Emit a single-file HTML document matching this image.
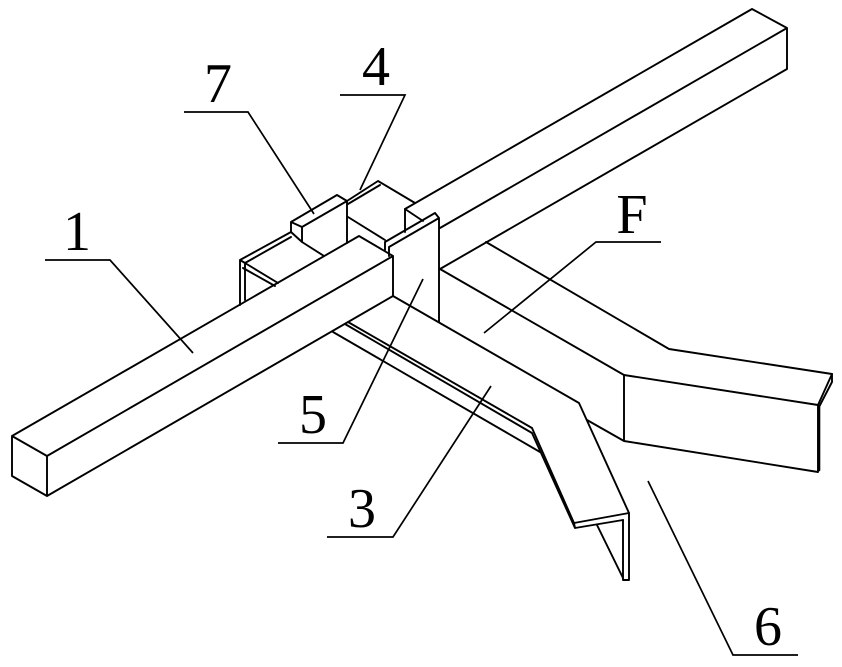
<!DOCTYPE html>
<html><head><meta charset="utf-8"><style>
html,body{margin:0;padding:0;background:#fff;width:842px;height:667px;overflow:hidden}
svg{display:block}
text{font-family:"Liberation Serif",serif;font-size:56px;fill:#000;text-anchor:middle}
.m{fill:none;stroke:#000;stroke-width:1.9;stroke-linejoin:round;stroke-linecap:round}
.l{fill:none;stroke:#000;stroke-width:1.7}
</style></head><body>
<svg width="842" height="667" viewBox="0 0 842 667" xmlns="http://www.w3.org/2000/svg">
<g class="m">
<!-- main bar front -->
<path d="M12 436L47 456V496L12 476ZM12 436L359 236L393 256V296L47 496M47 456L393 256"/>
<!-- main bar rear -->
<path d="M405 209L752 9L787 28V69L440 269M440 228L787 28"/>
<path d="M405 209V232M405 209L423 221"/>
<!-- plate 5 -->
<path d="M385 242L435 213L439 218L389 247V256M385 242V250M439 218V322"/>
<!-- frame and block 7 -->
<path d="M291 222L337 195L347 201L302 227ZM291 222V232L302 242V227M347 201V243M302 242L324 256"/>
<path d="M240 260L291 232M245 263L291 237M240 260V305M245 263V300M240 260L245 263"/>
<path d="M245 263L278 283M243 268L275 286"/>
<path d="M347 201L378 181L415 203M348 204L380 185M348 217L385 240"/>
<!-- rail 3 -->
<path d="M393 296L579 403L629 513L574 523L532 428L348 322"/>
<path d="M345 324L532 433L575 528L574 523M575 528L623 520M333 332L540 452"/>
<path d="M629 513V580H623V520M597 525L623 578"/>
<!-- rail F -->
<path d="M486 242L669 349L832 374L818 405L624 375L440 269"/>
<path d="M832 374V382L819 407M624 375V441L818 472V405M624 441L587 420"/>
<path d="M819 407V470" stroke-width="2.6"/>
</g>
<g class="l">
<path d="M45 260H110L193 353"/>
<path d="M184 112H248L314 214"/>
<path d="M340 95H405L360 190"/>
<path d="M661 242H596L484 333"/>
<path d="M278 443H343L423 279"/>
<path d="M327 537H393L491 386"/>
<path d="M798 655H733L648 481"/>
</g>
<text x="77" y="250">1</text>
<text x="218" y="102">7</text>
<text x="376" y="85">4</text>
<text x="632" y="233">F</text>
<text x="313" y="433">5</text>
<text x="362" y="527">3</text>
<text x="768" y="645">6</text>
</svg>
</body></html>
